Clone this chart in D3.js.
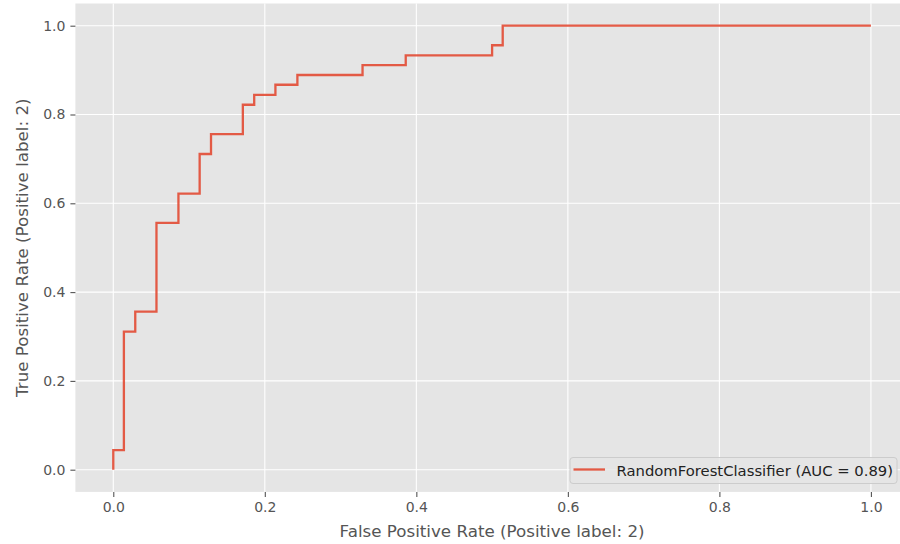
<!DOCTYPE html>
<html>
<head>
<meta charset="utf-8">
<script src="https://cdn.jsdelivr.net/npm/d3@7"></script>
<style>
  body { margin: 0; background: #fff; }
  text { font-family: "DejaVu Sans", sans-serif; }
</style>
</head>
<body>
<div id="chart"></div>
<script>
/* DATA */
// corner points of the ROC step curve
const fpr = [0, 0, 0.014, 0.014, 0.029, 0.029, 0.057, 0.057, 0.086, 0.086, 0.114, 0.114, 0.129, 0.129,
  0.171, 0.171, 0.186, 0.186, 0.214, 0.214, 0.243, 0.243, 0.329, 0.329, 0.386, 0.386, 0.5, 0.5, 0.514, 0.514, 1.0];
const tpr = [0, 0.044, 0.044, 0.311, 0.311, 0.356, 0.356, 0.556, 0.556, 0.622, 0.622, 0.711, 0.711, 0.756,
  0.756, 0.822, 0.822, 0.844, 0.844, 0.867, 0.867, 0.889, 0.889, 0.911, 0.911, 0.933, 0.933, 0.956, 0.956, 1.0, 1.0];
const ticks = [0, 0.2, 0.4, 0.6, 0.8, 1.0];
const seriesName = 'RandomForestClassifier (AUC = 0.89)';
const xLabel = 'False Positive Rate (Positive label: 2)';
const yLabel = 'True Positive Rate (Positive label: 2)';

/* LAYOUT */
const W = 900, H = 544;
const margin = { top: 3.5, left: 75.4 };
const width = 833.4;
const height = 488.4;

const svg = d3.select('#chart')
  .append('svg')
  .attr('width', W)
  .attr('height', H);

const g = svg.append('g')
  .attr('transform', `translate(${margin.left}, ${margin.top})`);

const x = d3.scaleLinear().domain([-0.05, 1.05]).range([0, width]);
const y = d3.scaleLinear().domain([-0.05, 1.05]).range([height, 0]);

// panel background
g.append('rect')
  .attr('width', width)
  .attr('height', height)
  .attr('fill', '#E5E5E5');

// grid
g.selectAll('.vgrid')
  .data(ticks)
  .enter()
  .append('line')
  .attr('x1', d => x(d)).attr('x2', d => x(d))
  .attr('y1', 0).attr('y2', height)
  .attr('stroke', '#fff')
  .attr('stroke-width', 1.1);

g.selectAll('.hgrid')
  .data(ticks)
  .enter()
  .append('line')
  .attr('y1', d => y(d)).attr('y2', d => y(d))
  .attr('x1', 0).attr('x2', width)
  .attr('stroke', '#fff')
  .attr('stroke-width', 1.1);

// axes
const xAxis = g.append('g')
  .attr('transform', `translate(0, ${height})`)
  .call(d3.axisBottom(x).tickValues(ticks).tickFormat(d3.format('.1f')).tickSize(5).tickPadding(5));

const yAxis = g.append('g')
  .call(d3.axisLeft(y).tickValues(ticks).tickFormat(d3.format('.1f')).tickSize(5).tickPadding(5));

[xAxis, yAxis].forEach(a => {
  a.select('.domain').remove();
  a.selectAll('line').attr('stroke', '#555555').attr('stroke-width', 1.1);
  a.selectAll('text')
    .attr('fill', '#555555')
    .style('font-size', '14px')
    .style('font-family', '"DejaVu Sans", sans-serif');
});

// ROC curve
const line = d3.line()
  .x(d => x(d[0]))
  .y(d => y(d[1]));

g.append('path')
  .datum(fpr.map((f, i) => [f, tpr[i]]))
  .attr('d', line)
  .attr('fill', 'none')
  .attr('stroke', '#E24A33')
  .attr('stroke-opacity', 0.9)
  .attr('stroke-width', 2.3)
  .attr('stroke-linejoin', 'miter');

// axis labels
svg.append('text')
  .attr('x', margin.left + x(0.5))
  .attr('y', 537)
  .attr('text-anchor', 'middle')
  .attr('fill', '#555555')
  .style('font-size', '16.7px')
  .text(xLabel);

svg.append('text')
  .attr('transform', `translate(28, ${margin.top + y(0.5)}) rotate(-90)`)
  .attr('text-anchor', 'middle')
  .attr('fill', '#555555')
  .style('font-size', '16.7px')
  .text(yLabel);

// Legend
const legend = svg.append('g')
  .attr('transform', 'translate(570, 457.5)');

legend.append('rect')
  .attr('width', 327)
  .attr('height', 26)
  .attr('rx', 3)
  .attr('fill', '#E5E5E5')
  .attr('fill-opacity', 0.8)
  .attr('stroke', '#cccccc')
  .attr('stroke-width', 1);

legend.append('line')
  .attr('x1', 3.5).attr('x2', 35)
  .attr('y1', 12).attr('y2', 12)
  .attr('stroke', '#E24A33')
  .attr('stroke-opacity', 0.9)
  .attr('stroke-width', 2.3);

legend.append('text')
  .attr('x', 46.5)
  .attr('y', 18)
  .attr('fill', '#222')
  .style('font-size', '14.8px')
  .text(seriesName);
</script>
</body>
</html>
